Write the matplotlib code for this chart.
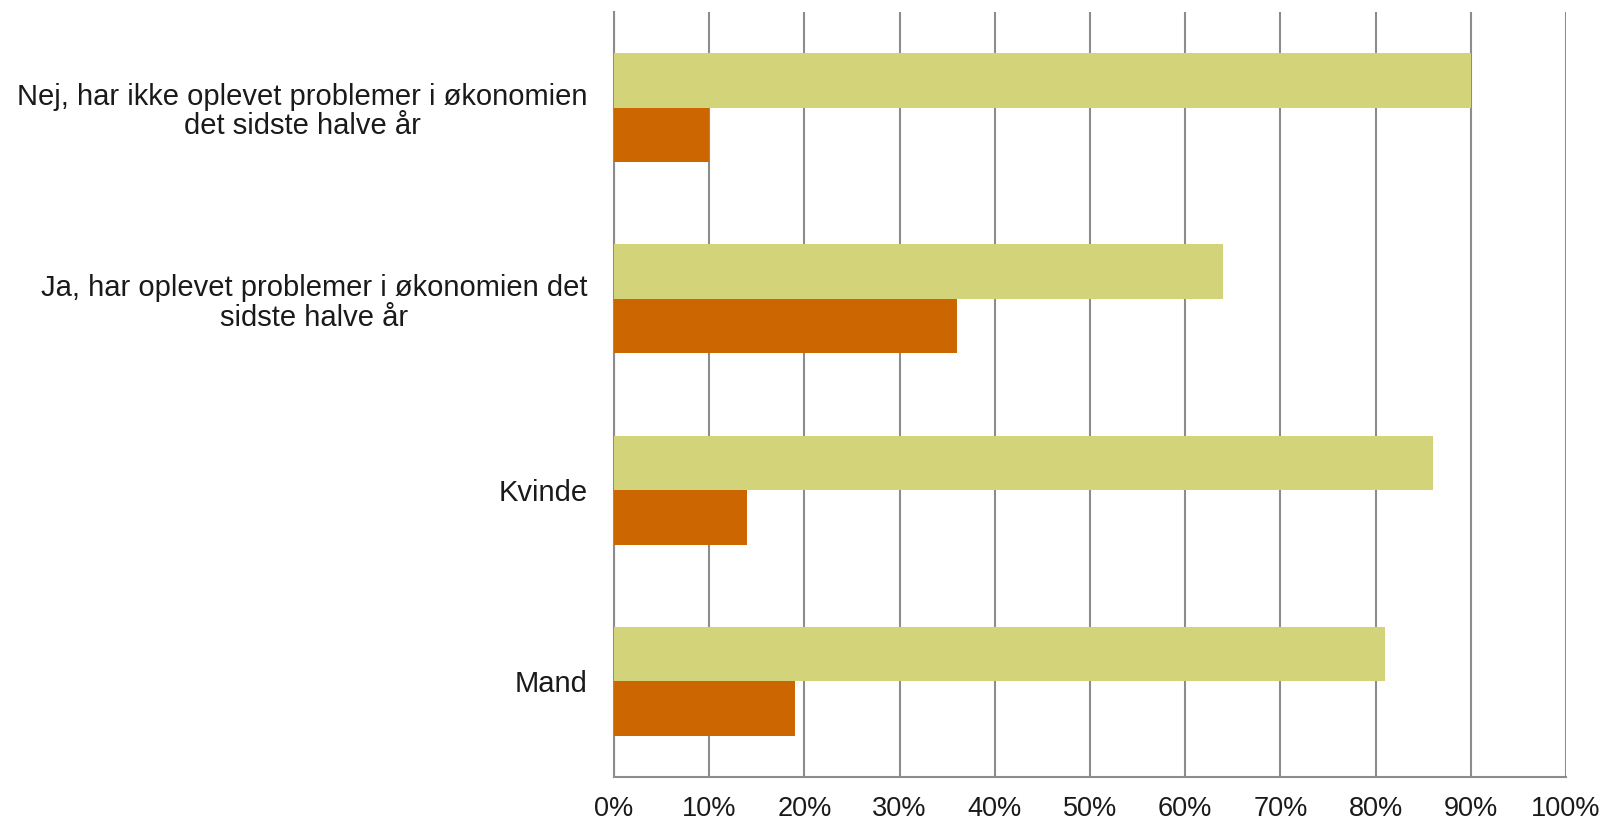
import numpy as np
import matplotlib.pyplot as plt

plt.rcParams['font.family'] = ['Liberation Sans', 'DejaVu Sans']

# Data (percent), top to bottom as in the chart
categories = [
    "Nej, har ikke oplevet problemer i økonomien\ndet sidste halve år",
    "Ja, har oplevet problemer i økonomien det\nsidste halve år",
    "Kvinde",
    "Mand",
]
serie_groen = [90, 64, 86, 81]
serie_orange = [10, 36, 14, 19]
xticks = np.arange(0, 101, 10)
xtick_labels = [f"{v}%" for v in xticks]

fig = plt.figure(figsize=(16.02, 8.21), dpi=100)
ax = fig.add_axes([0.3833, 0.0536, 0.9775 - 0.3833, 0.9854 - 0.0536])

n = len(categories)
y = np.arange(n)[::-1]          # first category at the top
h = 0.285

ax.barh(y + h / 2, serie_groen, height=h, color='#D3D37A', zorder=3)
ax.barh(y - h / 2, serie_orange, height=h, color='#CC6600', zorder=3)

ax.set_xlim(0, 100)
ax.set_ylim(-0.5, n - 0.5)
ax.set_xticks(xticks)
ax.set_xticklabels(xtick_labels, fontsize=19.5, color='#1a1a1a')
ax.set_yticks(y)
ax.set_yticklabels(categories, fontsize=21, color='#1a1a1a',
                   multialignment='center', linespacing=1.08)
ax.tick_params(axis='x', length=0, pad=14)
ax.tick_params(axis='y', length=0, pad=19)

ax.grid(axis='x', color='#8C8C8C', linewidth=1.5, zorder=0)
ax.set_axisbelow(True)
for side in ['top', 'right']:
    ax.spines[side].set_visible(False)
for side in ['left', 'bottom']:
    ax.spines[side].set_color('#8C8C8C')
    ax.spines[side].set_linewidth(1.5)

fig.savefig('out.png', dpi=100)
